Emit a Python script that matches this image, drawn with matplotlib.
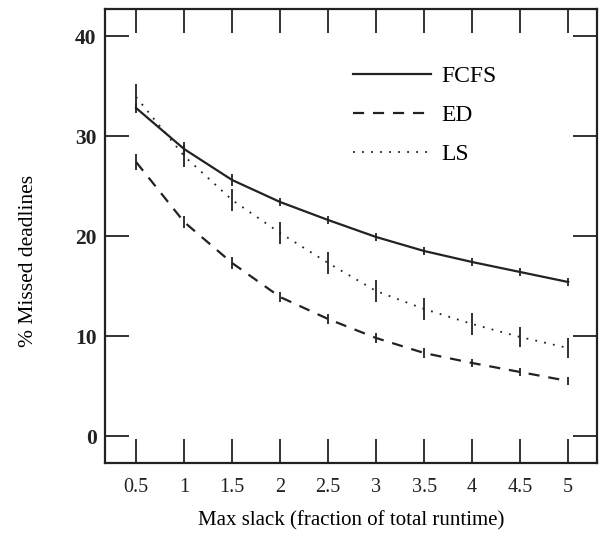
import matplotlib
matplotlib.use('Agg')
import matplotlib.pyplot as plt

# slack values (x axis)
slack = [0.5, 1, 1.5, 2, 2.5, 3, 3.5, 4, 4.5, 5]

# % missed deadlines per policy
fcfs = [32.8, 28.7, 25.6, 23.4, 21.6, 19.9, 18.5, 17.4, 16.4, 15.4]
ed = [27.4, 21.4, 17.3, 13.9, 11.7, 9.8, 8.3, 7.3, 6.4, 5.5]
ls = [33.9, 28.0, 23.6, 20.3, 17.3, 14.5, 12.7, 11.2, 9.9, 8.8]

# half widths of the error bars
fcfs_err = [0.5, 0.7, 0.6, 0.4, 0.4, 0.4, 0.4, 0.4, 0.4, 0.4]
ed_err = [0.8, 0.6, 0.6, 0.5, 0.5, 0.5, 0.5, 0.4, 0.4, 0.4]
ls_err = [1.3, 1.1, 1.1, 1.1, 1.1, 1.1, 1.1, 1.1, 1.0, 1.0]

xticks = [0.5, 1, 1.5, 2, 2.5, 3, 3.5, 4, 4.5, 5]
yticks = [0, 10, 20, 30, 40]

plt.rcParams['font.family'] = ['Liberation Serif', 'DejaVu Serif']

fig = plt.figure(figsize=(6.01, 5.33), dpi=100)
ax = fig.add_axes([0.1747, 0.1313, 0.8186, 0.8518])

ax.errorbar(slack, fcfs, yerr=fcfs_err, color='#222222', linestyle='-', linewidth=1.6,
            elinewidth=1.3, capsize=0, label='FCFS')
ax.errorbar(slack, ed, yerr=ed_err, color='#222222', linestyle=(0, (5, 4)), linewidth=1.6,
            elinewidth=1.3, capsize=0, label='ED')
ax.errorbar(slack, ls, yerr=ls_err, color='#222222', linestyle=(0, (1, 4)), linewidth=1.3,
            elinewidth=1.3, capsize=0, label='LS')

ax.set_xlim(0.176, 5.30)
ax.set_ylim(-2.7, 42.7)
ax.set_xticks(xticks)
ax.set_xticklabels(['0.5', '1', '1.5', '2', '2.5', '3', '3.5', '4', '4.5', '5'])
ax.set_yticks(yticks)
ax.tick_params(direction='in', length=17, width=1.3, top=True, right=True,
               colors='#222222')
ax.tick_params(axis='x', labelsize=14.5, pad=11)
ax.tick_params(axis='y', labelsize=15.5, pad=6)
for lbl in ax.get_yticklabels():
    lbl.set_fontweight('bold')
for sp in ax.spines.values():
    sp.set_linewidth(1.6)
    sp.set_color('#222222')

ax.set_xlabel('Max slack (fraction of total runtime)', fontsize=15, labelpad=10)
ax.set_ylabel('% Missed deadlines', fontsize=15.5)
ax.yaxis.set_label_coords(-0.137, 0.445)

h, l = ax.get_legend_handles_labels()
h = [x[0] for x in h]
ax.legend(h, l, loc='upper left', bbox_to_anchor=(0.504, 0.876), frameon=False,
          fontsize=17, handlelength=3.3, labelspacing=0.75, handletextpad=0.45,
          borderpad=0, borderaxespad=0)

fig.savefig('out.png', dpi=100)
